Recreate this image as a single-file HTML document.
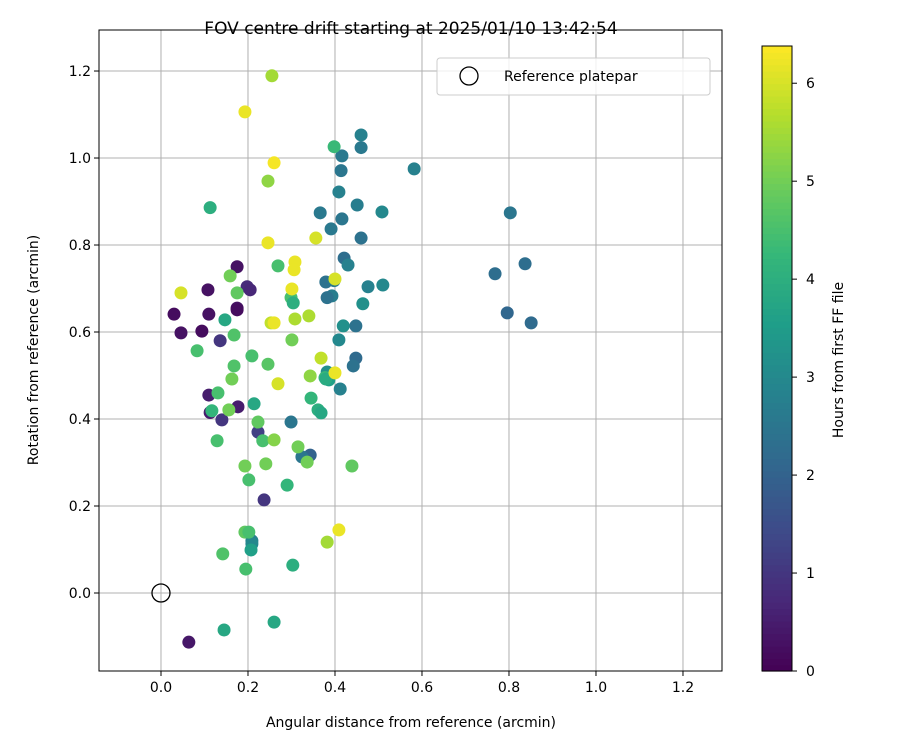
<!DOCTYPE html>
<html><head><meta charset="utf-8"><style>
body{margin:0;background:#fff}
svg{font-family:"DejaVu Sans","Liberation Sans",sans-serif}
</style></head><body>
<svg id="chart" width="900" height="750"></svg>
<script>
const xs=[.030,.046,.094,.108,.110,.136,.175,.175,.175,.110,.113,.177,.140,.064,.198,.205,.237,.223,.343,.299,.324,.209,.209,
.460,.460,.416,.414,.409,.391,.366,.416,.451,.421,.430,.379,.398,.393,.382,.476,.464,.510,.448,.448,.442,.419,.409,.412,.386,.382,.377,
.582,.803,.768,.837,.796,.851,.508,.460,.398,.113,.175,.269,.299,.304,.159,.168,.083,.168,.209,.163,.156,.214,.117,.147,.131,.223,.234,.129,.260,.241,.193,.202,.195,.290,.193,.202,.207,.142,.315,.336,.345,.361,.368,.379,.439,.382,.303,.260,.145,.301,.246,.255,.246,
.193,.260,.246,.253,.260,.308,.306,.301,.308,.400,.340,.356,.368,.400,.409,.343,.269,.046];
const ys=[.641,.598,.602,.697,.641,.580,.750,.655,.651,.455,.415,.428,.398,-.113,.704,.697,.214,.370,.317,.393,.313,.120,.113,
1.053,1.024,1.005,.971,.922,.837,.874,.860,.892,.770,.754,.715,.718,.683,.679,.704,.665,.708,.614,.540,.522,.614,.582,.469,.490,.508,.495,
.975,.874,.734,.757,.644,.621,.876,.816,1.026,.886,.690,.752,.679,.667,.729,.522,.557,.593,.545,.492,.421,.435,.419,.628,.460,.393,.350,.350,.352,.297,.292,.260,.055,.248,.140,.140,.099,.090,.336,.301,.448,.421,.414,.492,.292,.117,.064,-.067,-.085,.582,.526,1.189,.947,
1.106,.989,.805,.621,.621,.761,.743,.699,.630,.722,.637,.816,.540,.506,.145,.499,.481,.690];
const hs=[.2,.3,.2,.3,.3,1.0,.3,.3,.2,.5,.5,.5,1.0,.4,.8,.7,1.0,1.2,2.0,2.5,2.5,2.8,3.0,
2.8,2.6,2.6,2.5,2.8,2.6,2.6,2.5,2.7,2.3,2.8,2.4,2.6,2.7,2.4,2.8,3.2,3.0,2.4,2.2,2.4,3.2,3.0,2.8,3.6,3.2,4.3,
2.8,2.5,2.3,2.3,2.1,2.2,3.0,2.4,4.3,4.0,4.8,4.5,4.5,4.0,5.0,4.6,4.5,4.6,4.5,5.0,5.0,3.8,4.2,3.8,4.5,4.8,4.5,4.5,5.2,5.0,5.0,4.5,4.5,4.2,4.8,4.5,3.6,4.6,5.0,5.0,4.2,4.0,3.8,3.9,4.8,5.5,4.0,3.8,3.8,5.0,4.7,5.5,5.3,
6.2,6.3,6.2,5.8,6.2,6.2,6.2,6.2,5.6,6.0,5.6,6.0,5.8,6.2,6.2,5.3,6.0,6.0];
const xTicks=[0,0.2,0.4,0.6,0.8,1.0,1.2];
const yTicks=[0,0.2,0.4,0.6,0.8,1.0,1.2];
const cTicks=[0,1,2,3,4,5,6];
const L=99,R=722,T=30,B=671,X0=-0.1425,X1=1.2897,Y0=-0.1793,Y1=1.2943,HMAX=6.38;
const sx=v=>L+(v-X0)/(X1-X0)*(R-L), sy=v=>B-(v-Y0)/(Y1-Y0)*(B-T);
const CT=46,CB=671,cy=v=>CB-v/HMAX*(CB-CT);
const stops=[[68,1,84],[72,40,120],[62,74,137],[49,104,142],[38,130,142],[31,158,137],[53,183,121],[109,205,89],[180,222,44],[253,231,37]];
function vir(t){t=Math.max(0,Math.min(1,t))*9;const i=Math.min(8,Math.floor(t)),f=t-i,a=stops[i],b=stops[i+1];
return `rgb(${a.map((c,k)=>Math.round(c+(b[k]-c)*f)).join(',')})`;}
const svg=document.getElementById('chart'),NS='http://www.w3.org/2000/svg';
function mk(tag,at,txt){const e=document.createElementNS(NS,tag);for(const k in at)e.setAttribute(k,at[k]);if(txt!=null)e.textContent=txt;svg.appendChild(e);return e;}
let e;
xTicks.forEach(v=>{e=mk('line',{x1:sx(v),x2:sx(v),y1:T,y2:B,stroke:'#b0b0b0','stroke-width':1});

e=mk('line',{x1:sx(v),x2:sx(v),y1:B,y2:B+5,stroke:'#000'});

e=mk('text',{x:sx(v),y:B+21,'font-size':14,'text-anchor':'middle'},v.toFixed(1));
});
yTicks.forEach(v=>{e=mk('line',{x1:L,x2:R,y1:sy(v),y2:sy(v),stroke:'#b0b0b0','stroke-width':1});

e=mk('line',{x1:L-5,x2:L,y1:sy(v),y2:sy(v),stroke:'#000'});

e=mk('text',{x:L-8,y:sy(v)+5,'font-size':14,'text-anchor':'end'},v.toFixed(1));
});
xs.forEach((x,i)=>{e=mk('circle',{cx:sx(x),cy:sy(ys[i]),r:6.5,fill:vir(hs[i]/HMAX)});
});
e=mk('circle',{cx:sx(0),cy:sy(0),r:9,fill:'none',stroke:'#000','stroke-width':1.3});

e=mk('rect',{x:L,y:T,width:R-L,height:B-T,fill:'none',stroke:'#000','stroke-width':1});

e=mk('rect',{x:437,y:58,width:273,height:37,rx:3,fill:'#fff','fill-opacity':0.8,stroke:'#ccc'});

e=mk('circle',{cx:469,cy:76,r:9,fill:'none',stroke:'#000','stroke-width':1.3});

e=mk('text',{x:504,y:81,'font-size':14},'Reference platepar');

e=mk('text',{x:411,y:34,'font-size':17,'text-anchor':'middle'},'FOV centre drift starting at 2025/01/10 13:42:54');

e=mk('text',{x:411,y:727,'font-size':14,'text-anchor':'middle'},'Angular distance from reference (arcmin)');

e=mk('text',{x:38,y:350,'font-size':14,'text-anchor':'middle',transform:'rotate(-90 38 350)'},'Rotation from reference (arcmin)');

for(let i=0;i<100;i++){const y0=CB-(i+1)*(CB-CT)/100;
e=mk('rect',{x:762,y:y0,width:30,height:(CB-CT)/100+0.6,fill:vir((i+0.5)/100)});
}
e=mk('rect',{x:762,y:CT,width:30,height:CB-CT,fill:'none',stroke:'#000'});

cTicks.forEach(v=>{e=mk('line',{x1:792,x2:797,y1:cy(v),y2:cy(v),stroke:'#000'});

e=mk('text',{x:806,y:cy(v)+5,'font-size':14},String(v));
});
e=mk('text',{x:843,y:360,'font-size':14,'text-anchor':'middle',transform:'rotate(-90 843 360)'},'Hours from first FF file');

</script>
</body></html>
